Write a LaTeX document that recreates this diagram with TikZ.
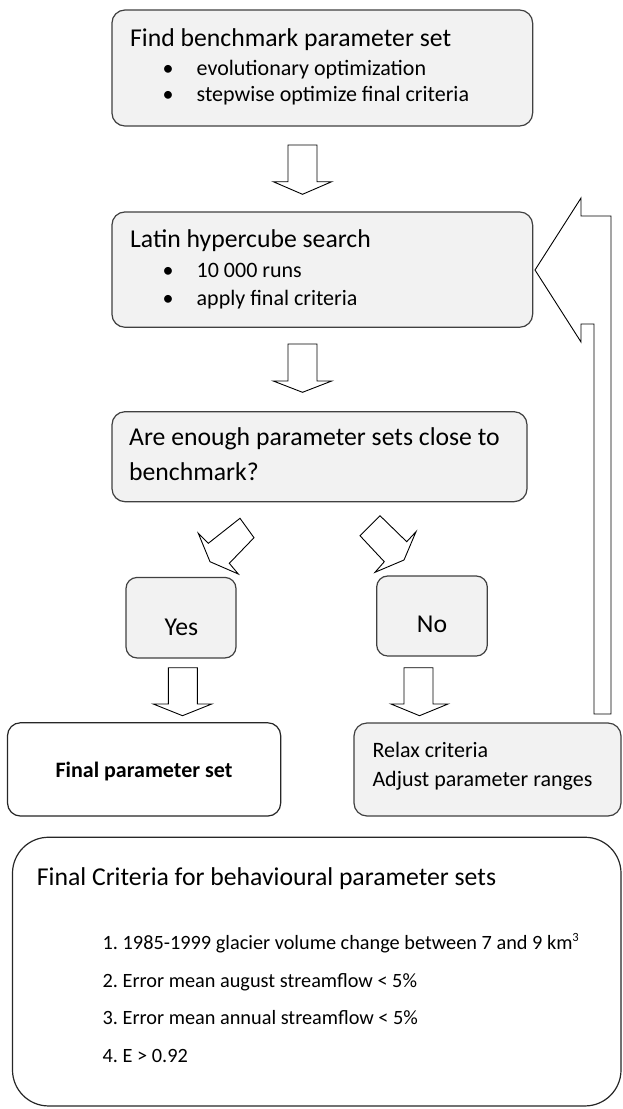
\documentclass[tikz,border=0pt]{standalone}
\usepackage{fontspec}
\setmainfont{Carlito}
\frenchspacing
\begin{document}
\begin{tikzpicture}[x=1pt,y=-1pt,
  gbox/.style={draw=black!75,line width=1.2pt,fill=black!5,rounded corners=13pt,inner sep=0pt,outer sep=0pt},
  wbox/.style={draw=black!85,line width=1.2pt,fill=white,rounded corners=13pt,inner sep=0pt,outer sep=0pt},
  blockarrow/.style={draw=black,line width=0.9pt,fill=white,line join=miter},
  big/.style={font=\fontsize{25.7}{30}\selectfont,inner sep=0pt},
  small/.style={font=\fontsize{22}{26}\selectfont,inner sep=0pt},
  crit/.style={font=\fontsize{20.3}{24}\selectfont,inner sep=0pt}]
\useasboundingbox (0,0) rectangle (623,1109);
% boxes
\node[gbox,minimum width=420.7pt,minimum height=116pt] (bench) at (322.3,68) {};
\node[gbox,minimum width=420.7pt,minimum height=115.3pt] (lhs) at (322.3,269.6) {};
\node[gbox,minimum width=415pt,minimum height=90pt] (are) at (319.5,456.7) {};
\node[gbox,rounded corners=11pt,minimum width=110pt,minimum height=80.5pt] (yes) at (181,617.7) {};
\node[gbox,rounded corners=11pt,minimum width=110.6pt,minimum height=80pt] (no) at (432,616) {};
\node[wbox,minimum width=273.2pt,minimum height=93.3pt] (final) at (144.1,769.4) {};
\node[gbox,minimum width=267pt,minimum height=93pt] (relax) at (487.5,769.5) {};
\node[wbox,rounded corners=36pt,minimum width=608.5pt,minimum height=268.7pt] (crit) at (316.75,971.6) {};
% texts
\node[big,anchor=base west] (t1) at (130,46) {Find benchmark parameter set};
\node[small,anchor=base] (b11) at (168,75) {•};
\node[small,anchor=base west] (t11) at (196.5,75) {evolutionary optimization};
\node[small,anchor=base] (b12) at (168,101.7) {•};
\node[small,anchor=base west] (t12) at (196.5,101.7) {stepwise optimize final criteria};
\node[big,anchor=base west] (t2) at (130,247) {Latin hypercube search};
\node[small,anchor=base] (b21) at (168,277) {•};
\node[small,anchor=base west] (t21) at (196.5,277) {10 000 runs};
\node[small,anchor=base] (b22) at (168,305.7) {•};
\node[small,anchor=base west] (t22) at (196.5,305.7) {apply final criteria};
\node[big,anchor=base west] (t3) at (129,445) {Are enough parameter sets close to};
\node[big,anchor=base west] (t3b) at (129,480) {benchmark?};
\node[big,anchor=base] (tyes) at (181.5,635) {Yes};
\node[big,anchor=base] (tno) at (432,632) {No};
\node[small,anchor=base,font=\fontsize{22}{26}\selectfont\bfseries] (tfinal) at (144,777.3) {Final parameter set};
\node[small,anchor=base west] (tr1) at (372.3,757) {Relax criteria};
\node[small,anchor=base west] (tr2) at (372.3,786) {Adjust parameter ranges};
\node[big,anchor=base west] (tc) at (36.7,885) {Final Criteria for behavioural parameter sets};
\node[crit,anchor=base west] (c1) at (102.5,949) {1. 1985-1999 glacier volume change between 7 and 9 km\raisebox{8pt}{\fontsize{12.5}{13}\selectfont 3}};
\node[crit,anchor=base west] (c2) at (102.5,987) {2. Error mean august streamflow < 5\%};
\node[crit,anchor=base west] (c3) at (102.5,1024) {3. Error mean annual streamflow < 5\%};
\node[crit,anchor=base west] (c4) at (102.5,1062) {4. E > 0.92};
% block arrows
\draw[blockarrow] (288,145) -- (317,145) -- (317,181.7) -- (331.7,181.7) -- (302.5,194.3) -- (273.3,181.7) -- (288,181.7) -- cycle;
\draw[blockarrow] (288,344) -- (317,344) -- (317,381) -- (331.7,381) -- (302.5,392.3) -- (273.3,381) -- (288,381) -- cycle;
\draw[blockarrow] (240,518.3) -- (254,537.7) -- (229.3,563.3) -- (238.3,574) -- (210,561.7) -- (198.3,533.3) -- (208.3,543.3) -- cycle;
\draw[blockarrow] (380,515.7) -- (360,535.7) -- (384.3,561.7) -- (375,572.3) -- (404,560) -- (416,531.7) -- (406.7,541.7) -- cycle;
\draw[blockarrow] (168.3,667.7) -- (197.3,667.7) -- (197.3,704) -- (211.7,704) -- (182.5,715.7) -- (153.3,704) -- (168.3,704) -- cycle;
\draw[blockarrow] (404,667.7) -- (433,667.7) -- (433,704) -- (448,704) -- (419.5,715.7) -- (391,704) -- (404,704) -- cycle;
\draw[blockarrow] (594,714) -- (611,714) -- (611,216) -- (581,216) -- (581,198) -- (535,270) -- (581,342) -- (581,324) -- (594,324) -- cycle;
\end{tikzpicture}
\end{document}
